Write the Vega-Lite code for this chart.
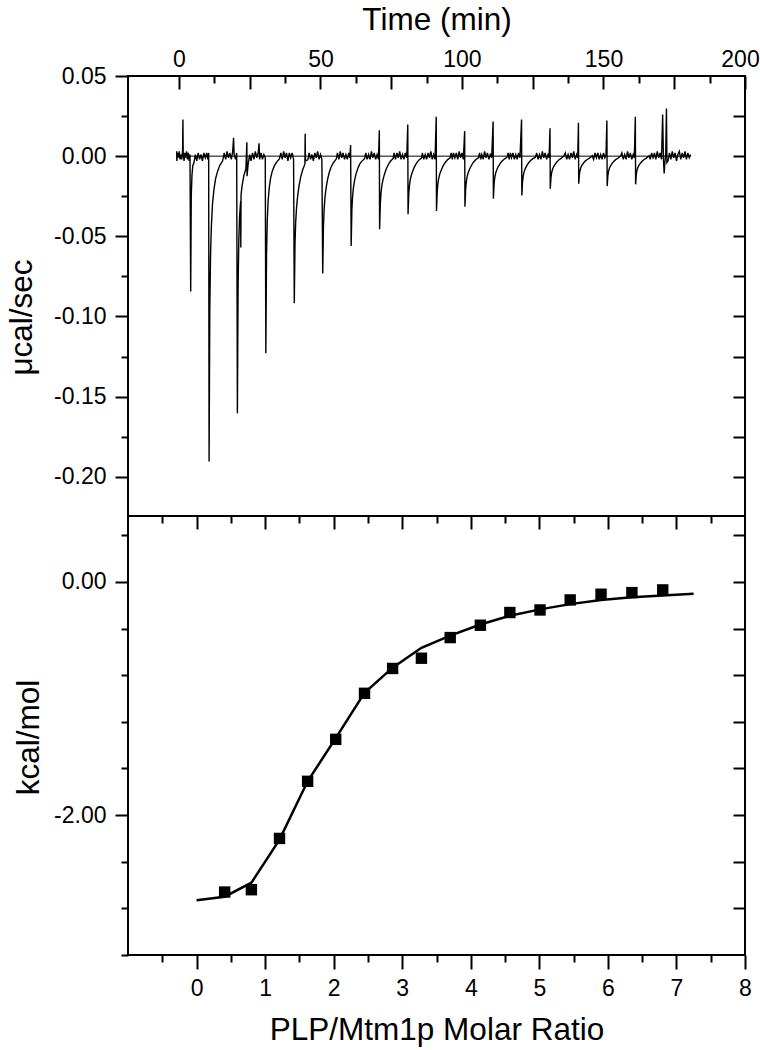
{
  "$schema": "https://vega.github.io/schema/vega-lite/v6.json",
  "padding": {"left": 5, "top": 3, "right": 0, "bottom": 5},
  "bounds": "flush",
  "spacing": 0,
  "config": {
    "font": "Liberation Sans",
    "view": {"stroke": "black", "strokeWidth": 2},
    "axis": {"grid": false, "domain": false, "tickColor": "black", "tickWidth": 2, "labelColor": "black", "titleColor": "black", "labelFont": "Liberation Sans", "titleFont": "Liberation Sans", "labelFontSize": 23, "titleFontSize": 31.5, "titleFontWeight": "normal", "labelFlush": false, "labelOverlap": false}
  },
  "datasets": {
    "base": [{"t0": -0.8, "t1": 180.8, "v": 0}],
    "fit": [
      {"r": 0.0, "h": -2.73}, {"r": 0.41, "h": -2.70}, {"r": 0.80, "h": -2.58}, {"r": 1.21, "h": -2.21}, {"r": 1.62, "h": -1.71}, {"r": 2.03, "h": -1.34}, {"r": 2.45, "h": -0.95}, {"r": 2.86, "h": -0.735}, {"r": 3.28, "h": -0.565}, {"r": 3.70, "h": -0.46}, {"r": 4.14, "h": -0.365}, {"r": 4.57, "h": -0.29}, {"r": 5.01, "h": -0.235}, {"r": 5.45, "h": -0.19}, {"r": 5.90, "h": -0.155}, {"r": 6.35, "h": -0.13}, {"r": 6.80, "h": -0.115}, {"r": 7.25, "h": -0.10}
    ],
    "pts": [
      {"r": 0.41, "h": -2.66}, {"r": 0.80, "h": -2.64}, {"r": 1.21, "h": -2.20}, {"r": 1.62, "h": -1.71}, {"r": 2.03, "h": -1.35}, {"r": 2.45, "h": -0.955}, {"r": 2.86, "h": -0.742}, {"r": 3.28, "h": -0.654}, {"r": 3.70, "h": -0.477}, {"r": 4.14, "h": -0.371}, {"r": 4.57, "h": -0.262}, {"r": 5.01, "h": -0.240}, {"r": 5.45, "h": -0.154}, {"r": 5.90, "h": -0.105}, {"r": 6.35, "h": -0.091}, {"r": 6.80, "h": -0.068}
    ],
    "trace": [
      {"t": -0.8, "v": 0.003}, {"t": -0.75, "v": -0.003}, {"t": -0.5, "v": 0.002}, {"t": -0.2, "v": -0.001}, {"t": 0.1, "v": 0.003}, {"t": 0.4, "v": -0.002}, {"t": 0.7, "v": 0.001}, {"t": 1.0, "v": -0.002}, {"t": 1.3, "v": 0.004}, {"t": 1.4, "v": 0.0229}, {"t": 1.5, "v": 0.002}, {"t": 1.8, "v": -0.003}, {"t": 2.1, "v": 0.002}, {"t": 2.4, "v": -0.001}, {"t": 2.7, "v": 0.003}, {"t": 3.0, "v": -0.002}, {"t": 3.3, "v": 0.002}, {"t": 3.6, "v": -0.003}, {"t": 3.9, "v": 0.001},
      {"t": 4.15, "v": -0.0845}, {"t": 4.35, "v": -0.025}, {"t": 4.6, "v": -0.012}, {"t": 4.9, "v": -0.006}, {"t": 5.3, "v": -0.004}, {"t": 5.8, "v": 0.001}, {"t": 6.3, "v": -0.003}, {"t": 6.8, "v": 0.002}, {"t": 7.3, "v": -0.002}, {"t": 7.8, "v": 0.001}, {"t": 8.3, "v": -0.003}, {"t": 8.8, "v": 0.002}, {"t": 9.3, "v": -0.001}, {"t": 9.8, "v": 0.002}, {"t": 10.2, "v": -0.002}, {"t": 10.5, "v": 0.002},
      {"t": 10.65, "v": -0.1905}, {"t": 10.9, "v": -0.095}, {"t": 11.15, "v": -0.063}, {"t": 11.45, "v": -0.044}, {"t": 11.85, "v": -0.030}, {"t": 12.35, "v": -0.021}, {"t": 12.95, "v": -0.014}, {"t": 13.65, "v": -0.0095}, {"t": 14.45, "v": -0.0057}, {"t": 15.45, "v": -0.0029}, {"t": 16.0, "v": 0.002}, {"t": 16.5, "v": -0.002}, {"t": 17.0, "v": 0.003}, {"t": 17.5, "v": -0.001}, {"t": 18.0, "v": 0.002}, {"t": 18.5, "v": -0.002}, {"t": 19.0, "v": 0.003}, {"t": 19.3, "v": 0.0114}, {"t": 19.5, "v": 0.001}, {"t": 20.0, "v": -0.002}, {"t": 20.4, "v": 0.002},
      {"t": 20.65, "v": -0.1604}, {"t": 20.9, "v": -0.080}, {"t": 21.15, "v": -0.053}, {"t": 21.45, "v": -0.037}, {"t": 21.8, "v": -0.028}, {"t": 21.85, "v": -0.057}, {"t": 21.95, "v": -0.024}, {"t": 22.35, "v": -0.018}, {"t": 22.95, "v": -0.012}, {"t": 23.65, "v": -0.008}, {"t": 24.0, "v": 0.0087}, {"t": 24.05, "v": -0.0125}, {"t": 24.45, "v": -0.005}, {"t": 25.0, "v": 0.001}, {"t": 25.45, "v": -0.003}, {"t": 26.0, "v": 0.002}, {"t": 26.5, "v": -0.002}, {"t": 27.0, "v": 0.003}, {"t": 27.5, "v": -0.001}, {"t": 28.0, "v": 0.002}, {"t": 28.3, "v": 0.008}, {"t": 28.5, "v": -0.002}, {"t": 29.0, "v": 0.002}, {"t": 29.5, "v": -0.002}, {"t": 30.0, "v": 0.001}, {"t": 30.5, "v": -0.001},
      {"t": 30.7, "v": -0.1229}, {"t": 30.95, "v": -0.0615}, {"t": 31.2, "v": -0.0406}, {"t": 31.5, "v": -0.0283}, {"t": 31.9, "v": -0.0197}, {"t": 32.4, "v": -0.0135}, {"t": 33.0, "v": -0.0092}, {"t": 33.7, "v": -0.0061}, {"t": 34.5, "v": -0.0037}, {"t": 35.5, "v": -0.0018}, {"t": 36.0, "v": 0.002}, {"t": 36.5, "v": -0.002}, {"t": 37.0, "v": 0.003}, {"t": 37.5, "v": -0.001}, {"t": 38.0, "v": 0.002}, {"t": 38.5, "v": -0.003}, {"t": 39.0, "v": 0.002}, {"t": 39.5, "v": -0.001}, {"t": 40.0, "v": 0.002}, {"t": 40.5, "v": -0.002},
      {"t": 40.75, "v": -0.0917}, {"t": 41.0, "v": -0.055}, {"t": 41.25, "v": -0.0413}, {"t": 41.55, "v": -0.0321}, {"t": 41.95, "v": -0.0248}, {"t": 42.45, "v": -0.0183}, {"t": 43.05, "v": -0.0128}, {"t": 43.75, "v": -0.0083}, {"t": 44.5, "v": -0.005}, {"t": 44.6, "v": 0.0139}, {"t": 44.7, "v": -0.003}, {"t": 45.55, "v": -0.0023}, {"t": 46.0, "v": 0.002}, {"t": 46.5, "v": -0.002}, {"t": 47.0, "v": 0.001}, {"t": 47.5, "v": -0.003}, {"t": 48.0, "v": 0.002}, {"t": 48.5, "v": -0.001}, {"t": 49.0, "v": 0.003}, {"t": 49.5, "v": -0.002}, {"t": 50.0, "v": 0.001}, {"t": 50.5, "v": -0.002},
      {"t": 50.8, "v": -0.0732}, {"t": 51.05, "v": -0.0439}, {"t": 51.3, "v": -0.0329}, {"t": 51.6, "v": -0.0256}, {"t": 52.0, "v": -0.0198}, {"t": 52.5, "v": -0.0146}, {"t": 53.1, "v": -0.0102}, {"t": 53.8, "v": -0.0066}, {"t": 54.6, "v": -0.004}, {"t": 55.6, "v": -0.0018}, {"t": 56.0, "v": 0.002}, {"t": 56.5, "v": -0.002}, {"t": 57.0, "v": 0.003}, {"t": 57.5, "v": -0.001}, {"t": 58.0, "v": 0.002}, {"t": 58.5, "v": -0.002}, {"t": 59.0, "v": 0.001}, {"t": 59.5, "v": -0.002}, {"t": 60.0, "v": 0.002}, {"t": 60.4, "v": -0.001}, {"t": 60.65, "v": 0.007},
      {"t": 60.85, "v": -0.056}, {"t": 61.1, "v": -0.0336}, {"t": 61.35, "v": -0.0252}, {"t": 61.65, "v": -0.0196}, {"t": 62.05, "v": -0.0151}, {"t": 62.55, "v": -0.0112}, {"t": 63.15, "v": -0.0078}, {"t": 63.85, "v": -0.005}, {"t": 64.65, "v": -0.0031}, {"t": 65.65, "v": -0.0014}, {"t": 66.0, "v": 0.002}, {"t": 66.5, "v": -0.002}, {"t": 67.0, "v": 0.001}, {"t": 67.5, "v": -0.002}, {"t": 68.0, "v": 0.003}, {"t": 68.5, "v": -0.001}, {"t": 69.0, "v": 0.002}, {"t": 69.5, "v": -0.002}, {"t": 70.0, "v": 0.001}, {"t": 70.5, "v": -0.002}, {"t": 70.8, "v": 0.0162},
      {"t": 70.9, "v": -0.0456}, {"t": 71.15, "v": -0.0296}, {"t": 71.4, "v": -0.0228}, {"t": 71.7, "v": -0.0182}, {"t": 72.1, "v": -0.0146}, {"t": 72.6, "v": -0.0114}, {"t": 73.2, "v": -0.0082}, {"t": 73.9, "v": -0.0055}, {"t": 74.7, "v": -0.0032}, {"t": 75.7, "v": -0.0014}, {"t": 76.0, "v": 0.002}, {"t": 76.5, "v": -0.002}, {"t": 77.0, "v": 0.002}, {"t": 77.5, "v": -0.001}, {"t": 78.0, "v": 0.003}, {"t": 78.5, "v": -0.002}, {"t": 79.0, "v": 0.001}, {"t": 79.5, "v": -0.002}, {"t": 80.0, "v": 0.002}, {"t": 80.5, "v": -0.001}, {"t": 80.85, "v": 0.0197},
      {"t": 80.95, "v": -0.0363}, {"t": 81.2, "v": -0.0236}, {"t": 81.45, "v": -0.0182}, {"t": 81.75, "v": -0.0145}, {"t": 82.15, "v": -0.0116}, {"t": 82.65, "v": -0.0091}, {"t": 83.25, "v": -0.0065}, {"t": 83.95, "v": -0.0044}, {"t": 84.75, "v": -0.0025}, {"t": 85.75, "v": -0.0011}, {"t": 86.0, "v": 0.002}, {"t": 86.5, "v": -0.002}, {"t": 87.0, "v": 0.001}, {"t": 87.5, "v": -0.002}, {"t": 88.0, "v": 0.002}, {"t": 88.5, "v": -0.001}, {"t": 89.0, "v": 0.003}, {"t": 89.5, "v": -0.002}, {"t": 90.0, "v": 0.001}, {"t": 90.5, "v": -0.002}, {"t": 90.9, "v": 0.0245},
      {"t": 91.0, "v": -0.0342}, {"t": 91.25, "v": -0.0222}, {"t": 91.5, "v": -0.0171}, {"t": 91.8, "v": -0.0137}, {"t": 92.2, "v": -0.0109}, {"t": 92.7, "v": -0.0086}, {"t": 93.3, "v": -0.0062}, {"t": 94.0, "v": -0.0041}, {"t": 94.8, "v": -0.0024}, {"t": 95.8, "v": -0.001}, {"t": 96.2, "v": 0.002}, {"t": 96.6, "v": -0.002}, {"t": 97.0, "v": 0.002}, {"t": 97.5, "v": -0.001}, {"t": 98.0, "v": 0.002}, {"t": 98.5, "v": -0.002}, {"t": 99.0, "v": 0.003}, {"t": 99.5, "v": -0.001}, {"t": 100.0, "v": 0.002}, {"t": 100.5, "v": -0.002}, {"t": 100.95, "v": 0.0156},
      {"t": 101.05, "v": -0.0315}, {"t": 101.3, "v": -0.0205}, {"t": 101.55, "v": -0.0158}, {"t": 101.85, "v": -0.0126}, {"t": 102.25, "v": -0.0101}, {"t": 102.75, "v": -0.0079}, {"t": 103.35, "v": -0.0057}, {"t": 104.05, "v": -0.0038}, {"t": 104.85, "v": -0.0022}, {"t": 105.85, "v": -0.0009}, {"t": 106.2, "v": 0.002}, {"t": 106.6, "v": -0.002}, {"t": 107.0, "v": 0.001}, {"t": 107.5, "v": -0.002}, {"t": 108.0, "v": 0.003}, {"t": 108.5, "v": -0.001}, {"t": 109.0, "v": 0.002}, {"t": 109.5, "v": -0.002}, {"t": 110.0, "v": 0.001}, {"t": 110.5, "v": -0.001}, {"t": 111.0, "v": 0.0216},
      {"t": 111.1, "v": -0.0265}, {"t": 111.35, "v": -0.0172}, {"t": 111.6, "v": -0.0133}, {"t": 111.9, "v": -0.0106}, {"t": 112.3, "v": -0.0085}, {"t": 112.8, "v": -0.0066}, {"t": 113.4, "v": -0.0048}, {"t": 114.1, "v": -0.0032}, {"t": 114.9, "v": -0.0019}, {"t": 115.9, "v": -0.0008}, {"t": 116.3, "v": 0.002}, {"t": 116.7, "v": -0.002}, {"t": 117.1, "v": 0.002}, {"t": 117.5, "v": -0.001}, {"t": 118.0, "v": 0.002}, {"t": 118.5, "v": -0.002}, {"t": 119.0, "v": 0.001}, {"t": 119.5, "v": -0.002}, {"t": 120.0, "v": 0.002}, {"t": 120.5, "v": -0.001}, {"t": 121.05, "v": 0.0229},
      {"t": 121.15, "v": -0.0245}, {"t": 121.4, "v": -0.0159}, {"t": 121.65, "v": -0.0123}, {"t": 121.95, "v": -0.0098}, {"t": 122.35, "v": -0.0078}, {"t": 122.85, "v": -0.0061}, {"t": 123.45, "v": -0.0044}, {"t": 124.15, "v": -0.0029}, {"t": 124.95, "v": -0.0017}, {"t": 125.95, "v": -0.0007}, {"t": 126.4, "v": 0.002}, {"t": 126.9, "v": -0.002}, {"t": 127.4, "v": 0.001}, {"t": 127.9, "v": -0.002}, {"t": 128.4, "v": 0.003}, {"t": 128.9, "v": -0.001}, {"t": 129.4, "v": 0.002}, {"t": 129.9, "v": -0.002}, {"t": 130.4, "v": 0.001}, {"t": 130.8, "v": -0.001}, {"t": 131.1, "v": 0.0174},
      {"t": 131.2, "v": -0.0203}, {"t": 131.45, "v": -0.0132}, {"t": 131.7, "v": -0.0102}, {"t": 132.0, "v": -0.0081}, {"t": 132.4, "v": -0.0065}, {"t": 132.9, "v": -0.0051}, {"t": 133.5, "v": -0.0037}, {"t": 134.2, "v": -0.0024}, {"t": 135.0, "v": -0.0014}, {"t": 136.0, "v": 0.0001}, {"t": 136.5, "v": 0.002}, {"t": 137.0, "v": -0.002}, {"t": 137.5, "v": 0.001}, {"t": 138.0, "v": -0.002}, {"t": 138.5, "v": 0.002}, {"t": 139.0, "v": -0.001}, {"t": 139.5, "v": 0.003}, {"t": 140.0, "v": -0.002}, {"t": 140.5, "v": 0.001}, {"t": 140.9, "v": -0.001}, {"t": 141.15, "v": 0.0208},
      {"t": 141.25, "v": -0.0172}, {"t": 141.5, "v": -0.0112}, {"t": 141.75, "v": -0.0086}, {"t": 142.05, "v": -0.0069}, {"t": 142.45, "v": -0.0055}, {"t": 142.95, "v": -0.0043}, {"t": 143.55, "v": -0.0031}, {"t": 144.25, "v": -0.0021}, {"t": 145.05, "v": -0.0012}, {"t": 146.05, "v": 0.0003}, {"t": 146.5, "v": -0.002}, {"t": 147.0, "v": 0.002}, {"t": 147.5, "v": -0.001}, {"t": 148.0, "v": 0.002}, {"t": 148.5, "v": -0.002}, {"t": 149.0, "v": 0.001}, {"t": 149.5, "v": -0.002}, {"t": 150.0, "v": 0.002}, {"t": 150.5, "v": -0.001}, {"t": 150.9, "v": 0.001}, {"t": 151.2, "v": 0.0222},
      {"t": 151.3, "v": -0.0187}, {"t": 151.55, "v": -0.0122}, {"t": 151.8, "v": -0.0094}, {"t": 152.1, "v": -0.0075}, {"t": 152.5, "v": -0.006}, {"t": 153.0, "v": -0.0047}, {"t": 153.6, "v": -0.0034}, {"t": 154.3, "v": -0.0022}, {"t": 155.1, "v": -0.0013}, {"t": 156.1, "v": 0.0002}, {"t": 156.5, "v": 0.002}, {"t": 157.0, "v": -0.002}, {"t": 157.5, "v": 0.001}, {"t": 158.0, "v": -0.002}, {"t": 158.5, "v": 0.003}, {"t": 159.0, "v": -0.001}, {"t": 159.5, "v": 0.002}, {"t": 160.0, "v": -0.002}, {"t": 160.5, "v": 0.001}, {"t": 160.9, "v": -0.001}, {"t": 161.25, "v": 0.0245},
      {"t": 161.35, "v": -0.0176}, {"t": 161.6, "v": -0.0114}, {"t": 161.85, "v": -0.0088}, {"t": 162.15, "v": -0.007}, {"t": 162.55, "v": -0.0056}, {"t": 163.05, "v": -0.0044}, {"t": 163.65, "v": -0.0032}, {"t": 164.35, "v": -0.0021}, {"t": 165.15, "v": -0.0012}, {"t": 166.15, "v": 0.0003}, {"t": 166.5, "v": -0.002}, {"t": 167.0, "v": 0.002}, {"t": 167.5, "v": -0.001}, {"t": 168.0, "v": 0.002}, {"t": 168.5, "v": -0.002}, {"t": 169.0, "v": 0.003}, {"t": 169.5, "v": -0.001}, {"t": 170.0, "v": 0.002}, {"t": 170.5, "v": -0.002}, {"t": 170.9, "v": 0.026},
      {"t": 171.2, "v": -0.003}, {"t": 171.45, "v": -0.0108}, {"t": 171.7, "v": -0.004}, {"t": 172.0, "v": 0.002}, {"t": 172.25, "v": 0.0297}, {"t": 172.4, "v": -0.004}, {"t": 172.8, "v": -0.003}, {"t": 173.3, "v": 0.002}, {"t": 173.8, "v": -0.002}, {"t": 174.3, "v": 0.003}, {"t": 174.8, "v": -0.001}, {"t": 175.3, "v": 0.002}, {"t": 175.8, "v": -0.003}, {"t": 176.3, "v": 0.001}, {"t": 176.8, "v": 0.003}, {"t": 177.3, "v": -0.002}, {"t": 177.8, "v": 0.002}, {"t": 178.3, "v": -0.001}, {"t": 178.8, "v": 0.003}, {"t": 179.3, "v": -0.002}, {"t": 179.8, "v": 0.002}, {"t": 180.3, "v": -0.001}, {"t": 180.8, "v": 0.001}
    ]
  },
  "vconcat": [
    {
      "width": 617,
      "height": 440,
      "resolve": {"axis": {"x": "independent", "y": "independent"}},
      "layer": [
        {
          "data": {"name": "trace"},
          "mark": {"type": "line", "color": "black", "strokeWidth": 1.4},
          "encoding": {
            "x": {"field": "t", "type": "quantitative", "scale": {"domain": [-18, 200], "nice": false, "zero": false},
              "axis": {"orient": "top", "values": [0, 25, 50, 75, 100, 125, 150, 175, 200], "labelExpr": "datum.value % 50 === 0 && datum.value < 200 ? datum.label : ''", "tickSize": -13, "labelPadding": 18, "title": "Time (min)", "titleBaseline": "alphabetic", "titleY": -47}},
            "y": {"field": "v", "type": "quantitative", "scale": {"domain": [-0.2245, 0.05], "nice": false, "zero": false},
              "axis": {"orient": "left", "values": [0.05, 0, -0.05, -0.1, -0.15, -0.2], "tickSize": 13, "labelPadding": 9, "labelExpr": "replace(format(datum.value, '.2f'), '\u2212', '-')", "title": "μcal/sec", "titleBaseline": "alphabetic", "titleX": -97, "titleY": 241}}
          }
        },
        {
          "data": {"name": "trace"},
          "mark": {"type": "point", "opacity": 0},
          "encoding": {
            "x": {"field": "t", "type": "quantitative", "axis": {"orient": "top", "values": [12.5, 37.5, 62.5, 87.5, 112.5, 137.5, 162.5, 187.5], "tickSize": -7, "labels": false, "title": null}},
            "y": {"field": "v", "type": "quantitative", "axis": {"orient": "left", "values": [0.025, -0.025, -0.075, -0.125, -0.175], "tickSize": 7, "labels": false, "title": null}}
          }
        },
        {
          "data": {"name": "trace"},
          "mark": {"type": "point", "opacity": 0},
          "encoding": {
            "x": {"field": "t", "type": "quantitative", "axis": {"orient": "top", "values": [200], "ticks": false, "labelPadding": 5, "labelOffset": -5, "title": null}},
            "y": {"field": "v", "type": "quantitative", "axis": {"orient": "right", "values": [0.025, 0, -0.025, -0.05, -0.075, -0.1, -0.125, -0.15, -0.175, -0.2], "tickSize": -12, "labels": false, "title": null}}
          }
        },
        {
          "data": {"name": "base"},
          "mark": {"type": "rule", "color": "black", "strokeWidth": 1},
          "encoding": {
            "x": {"field": "t0", "type": "quantitative", "axis": null},
            "x2": {"field": "t1"},
            "y": {"field": "v", "type": "quantitative", "axis": null}
          }
        }
      ]
    },
    {
      "width": 617,
      "height": 439,
      "resolve": {"axis": {"x": "independent", "y": "independent"}},
      "layer": [
        {
          "data": {"name": "pts"},
          "mark": {"type": "square", "size": 130, "filled": true, "color": "black", "opacity": 1},
          "encoding": {
            "x": {"field": "r", "type": "quantitative", "scale": {"domain": [-1, 8], "nice": false, "zero": false},
              "axis": {"orient": "bottom", "values": [0, 1, 2, 3, 4, 5, 6, 7, 8], "tickSize": 14, "labelPadding": 8, "format": "d", "title": "PLP/Mtm1p Molar Ratio", "titleBaseline": "alphabetic", "titleY": 84}},
            "y": {"field": "h", "type": "quantitative", "scale": {"domain": [-3.2, 0.566], "nice": false, "zero": false},
              "axis": {"orient": "left", "values": [0, -2], "tickSize": 13, "labelPadding": 9, "labelExpr": "replace(format(datum.value, '.2f'), '\u2212', '-')", "title": "kcal/mol", "titleBaseline": "alphabetic", "titleX": -90, "titleY": 221}}
          }
        },
        {
          "data": {"name": "fit"},
          "mark": {"type": "line", "color": "black", "strokeWidth": 2.5},
          "encoding": {
            "x": {"field": "r", "type": "quantitative", "axis": {"orient": "bottom", "values": [-0.5, 0.5, 1.5, 2.5, 3.5, 4.5, 5.5, 6.5, 7.5], "tickSize": 7, "labels": false, "title": null}},
            "y": {"field": "h", "type": "quantitative", "axis": {"orient": "left", "values": [0.4, -0.4, -0.8, -1.2, -1.6, -2.4, -2.8, -3.2], "tickSize": 7, "labels": false, "title": null}}
          }
        },
        {
          "data": {"name": "pts"},
          "mark": {"type": "point", "opacity": 0},
          "encoding": {
            "x": {"field": "r", "type": "quantitative", "axis": {"orient": "top", "values": [0, 1, 2, 3, 4, 5, 6, 7], "tickSize": -13, "labels": false, "title": null}},
            "y": {"field": "h", "type": "quantitative", "axis": {"orient": "right", "values": [0.4, 0, -0.4, -0.8, -1.2, -1.6, -2, -2.4, -2.8], "tickSize": -12, "labels": false, "title": null}}
          }
        },
        {
          "data": {"name": "pts"},
          "mark": {"type": "point", "opacity": 0},
          "encoding": {
            "x": {"field": "r", "type": "quantitative", "axis": {"orient": "top", "values": [-0.5, 0.5, 1.5, 2.5, 3.5, 4.5, 5.5, 6.5, 7.5], "tickSize": -7, "labels": false, "title": null}}
          }
        }
      ]
    }
  ]
}
